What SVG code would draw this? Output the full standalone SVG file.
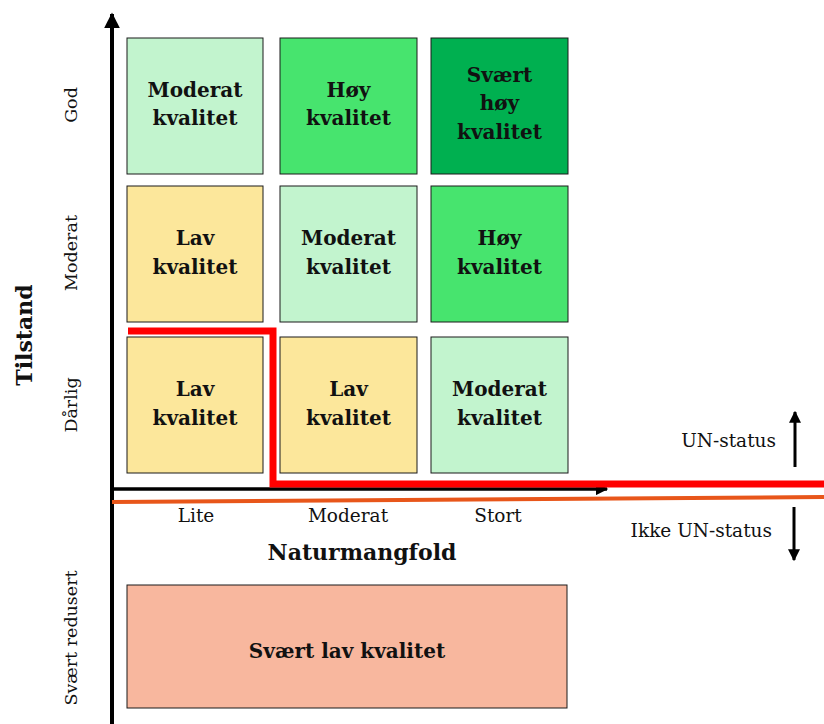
<svg xmlns="http://www.w3.org/2000/svg" width="824" height="724" viewBox="0 0 824 724">
<style>
.box{stroke:#1a1a1a;stroke-width:1}
.bt{font-family:"DejaVu Serif","Liberation Serif",serif;font-weight:bold;font-size:20px;fill:#111;text-anchor:middle}
.lbl{font-family:"DejaVu Serif","Liberation Serif",serif;font-size:18.5px;fill:#111;text-anchor:middle}
.rl{font-family:"DejaVu Serif","Liberation Serif",serif;font-size:17.5px;fill:#111;text-anchor:middle}
.ttl{font-family:"DejaVu Serif","Liberation Serif",serif;font-weight:bold;font-size:22px;fill:#111;text-anchor:middle}
.end{text-anchor:end}
.mod{fill:#C2F4CE}.hoy{fill:#47E46E}.shoy{fill:#00B050}.lav{fill:#FCE79B}.slav{fill:#F8B79E}
</style>
<defs>
<marker id="ah" viewBox="0 0 10 10" refX="9" refY="5" markerWidth="4" markerHeight="4" orient="auto"><path d="M0,0L10,5L0,10z" fill="#000"/></marker>
<marker id="ah2" viewBox="0 0 10 10" refX="9" refY="5" markerWidth="4" markerHeight="3.5" orient="auto"><path d="M0,0L10,5L0,10z" fill="#000"/></marker>
</defs>
<rect width="824" height="724" fill="#fff"/>
<g id="n11"><rect class="box mod" x="127" y="38" width="136" height="136"/><text class="bt" x="195" y="97">Moderat</text><text class="bt" x="195" y="125">kvalitet</text></g>
<g id="n12"><rect class="box hoy" x="280" y="38" width="137" height="136"/><text class="bt" x="348.5" y="97">Høy</text><text class="bt" x="348.5" y="125">kvalitet</text></g>
<g id="n13"><rect class="box shoy" x="431" y="38" width="137" height="136"/><text class="bt" x="499.5" y="82">Svært</text><text class="bt" x="499.5" y="110">høy</text><text class="bt" x="499.5" y="139">kvalitet</text></g>
<g id="n21"><rect class="box lav" x="127" y="186" width="136" height="136"/><text class="bt" x="195" y="245">Lav</text><text class="bt" x="195" y="274">kvalitet</text></g>
<g id="n22"><rect class="box mod" x="280" y="186" width="137" height="136"/><text class="bt" x="348.5" y="245">Moderat</text><text class="bt" x="348.5" y="274">kvalitet</text></g>
<g id="n23"><rect class="box hoy" x="431" y="186" width="137" height="136"/><text class="bt" x="499.5" y="245">Høy</text><text class="bt" x="499.5" y="274">kvalitet</text></g>
<g id="n31"><rect class="box lav" x="127" y="337" width="136" height="136"/><text class="bt" x="195" y="396">Lav</text><text class="bt" x="195" y="425">kvalitet</text></g>
<g id="n32"><rect class="box lav" x="280" y="337" width="137" height="136"/><text class="bt" x="348.5" y="396">Lav</text><text class="bt" x="348.5" y="425">kvalitet</text></g>
<g id="n33"><rect class="box mod" x="431" y="337" width="137" height="136"/><text class="bt" x="499.5" y="396">Moderat</text><text class="bt" x="499.5" y="425">kvalitet</text></g>
<g id="n4"><rect class="box slav" x="127" y="585" width="440" height="123"/><text class="bt" x="347" y="658">Svært lav kvalitet</text></g>
<g id="connectors">
<line x1="112" y1="724" x2="112" y2="14" stroke="#000" stroke-width="4" marker-end="url(#ah)"/>
<line x1="110" y1="489" x2="607" y2="489" stroke="#000" stroke-width="3.5" marker-end="url(#ah2)"/>
<polyline points="128,331 273,331 273,484 824,484" fill="none" stroke="#FF0000" stroke-width="7"/>
<line x1="112" y1="502" x2="824" y2="497" stroke="#E8561A" stroke-width="4"/>
<line x1="795" y1="467" x2="795" y2="412" stroke="#000" stroke-width="3" marker-end="url(#ah)"/>
<line x1="794" y1="507" x2="794" y2="560" stroke="#000" stroke-width="3" marker-end="url(#ah)"/>
</g>
<g id="labels">
<text class="lbl" x="196" y="522">Lite</text>
<text class="lbl" x="348" y="522">Moderat</text>
<text class="lbl" x="498" y="522">Stort</text>
<text class="ttl" x="362" y="560">Naturmangfold</text>
<text class="lbl end" x="776" y="447">UN-status</text>
<text class="lbl end" x="772" y="537">Ikke UN-status</text>
<text class="ttl" transform="translate(32,335) rotate(-90)">Tilstand</text>
<text class="rl" transform="translate(77,105) rotate(-90)">God</text>
<text class="rl" transform="translate(77,253) rotate(-90)">Moderat</text>
<text class="rl" transform="translate(77,405) rotate(-90)">Dårlig</text>
<text class="rl" transform="translate(77,638) rotate(-90)">Svært redusert</text>
</g>
</svg>
